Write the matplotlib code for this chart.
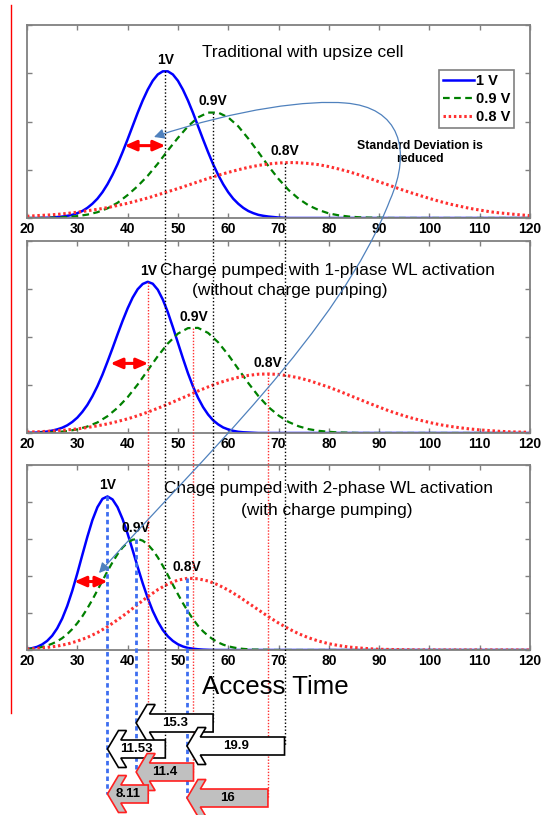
"""
Access time distributions for three word-line schemes at 1 V / 0.9 V / 0.8 V
"""

import matplotlib
matplotlib.use("Agg")
import matplotlib.pyplot as plt
from matplotlib.patches import Polygon, FancyArrowPatch
from matplotlib.path import Path

plt.rcParams["font.family"] = ["Liberation Sans", "DejaVu Sans"]

# ---- data --------------------------------------------------------------
# wide curves are read every 2 units, narrow ones every unit up to 70
access_time = list(range(20, 121, 2))
narrow_time = list(range(20, 71)) + list(range(72, 121, 2))
voltages = ["1 V", "0.9 V", "0.8 V"]
peak_labels = ["1V", "0.9V", "0.8V"]

trad_1v = [0, 0, 0, 0.1, 0.1, 0.2, 0.4, 0.6, 0.9, 1.3, 2.0, 2.9, 4.2, 5.9, 8.0,
           10.7, 14.0, 17.9, 22.3, 27.3, 32.6, 38.1, 43.6, 48.7, 53.2, 56.9,
           59.5, 60.8, 60.8, 59.5, 56.9, 53.2, 48.7, 43.6, 38.1, 32.6, 27.3,
           22.3, 17.9, 14.0, 10.7, 8.0, 5.9, 4.2, 2.9, 2.0, 1.3, 0.9, 0.6, 0.4,
           0.2] + [0] * 25
trad_09v = [0, 0, 0.1, 0.2, 0.4, 0.8, 1.4, 2.4, 4.0, 6.3, 9.5, 13.2, 17.5, 22.5,
            28.0, 33.2, 38.0, 41.7, 43.7, 43.7, 41.7, 38.0, 32.9, 27.3, 21.5,
            16.2, 11.6, 8.0, 5.2, 3.3, 1.9, 1.1, 0.6, 0.3, 0.15, 0.1] + [0] * 15
trad_08v = [0.7, 1.0, 1.2, 1.5, 1.9, 2.4, 3.0, 3.6, 4.3, 5.2, 6.1, 7.2, 8.3, 9.6,
            10.9, 12.2, 13.6, 15.0, 16.4, 17.7, 18.9, 20.0, 21.0, 21.8, 22.4,
            22.8, 23.0, 22.9, 22.6, 22.1, 21.3, 20.3, 19.2, 17.9, 16.5, 15.0,
            13.6, 12.1, 10.7, 9.4, 8.1, 6.9, 5.8, 4.9, 4.0, 3.3, 2.6, 2.1, 1.7,
            1.3, 1.0]

one_1v = [0.1, 0.1, 0.2, 0.4, 0.6, 1.0, 1.5, 2.2, 3.2, 4.6, 6.4, 8.8, 11.7, 15.3,
          19.5, 24.3, 29.7, 35.3, 41.1, 46.7, 51.9, 56.4, 59.9, 62.1, 63.0, 62.2,
          59.7, 55.6, 50.3, 44.1, 37.6, 31.1, 24.9, 19.4, 14.7, 10.8, 7.7, 5.3,
          3.6, 2.3, 1.5, 0.9, 0.5, 0.3, 0.2, 0.1, 0, 0, 0, 0, 0] + [0] * 25
one_09v = [0, 0.1, 0.2, 0.4, 0.8, 1.5, 2.7, 4.4, 7.0, 10.5, 14.9, 20.2, 26.1,
           32.0, 37.3, 41.4, 43.7, 43.8, 41.7, 37.8, 32.6, 26.7, 20.8, 15.4,
           10.8, 7.3, 4.6, 2.8, 1.6, 0.9, 0.5, 0.2, 0.1] + [0] * 18
one_08v = [0.4, 0.5, 0.7, 1.0, 1.3, 1.7, 2.3, 3.0, 3.8, 4.8, 5.9, 7.2, 8.7, 10.3,
           12.0, 13.8, 15.6, 17.5, 19.2, 20.8, 22.1, 23.2, 24.0, 24.5, 24.6,
           24.4, 23.8, 23.0, 21.9, 20.5, 19.1, 17.5, 15.8, 14.1, 12.4, 10.8,
           9.2, 7.8, 6.5, 5.4, 4.4, 3.5, 2.8, 2.2, 1.7, 1.3, 1.0, 0.7, 0.5, 0.4,
           0.3]

two_1v = [0.5, 1.0, 1.7, 3.0, 4.9, 7.7, 11.7, 17.0, 23.8, 32.0, 41.4, 51.4, 61.2,
          70.2, 77.2, 81.7, 83.0, 81.4, 77.2, 70.8, 62.9, 54.0, 44.9, 36.1, 28.1,
          21.1, 15.4, 10.8, 7.4, 4.9, 3.1, 1.9, 1.1, 0.7, 0.4, 0.2, 0.1] + [0] * 39
two_09v = [0.5, 0.7, 1.1, 1.6, 2.4, 3.4, 4.7, 6.4, 8.6, 11.3, 14.5, 18.2, 22.5,
           27.2, 32.3, 37.4, 42.6, 47.4, 51.8, 55.4, 58.0, 59.6, 60.0, 59.1, 57.1,
           54.0, 50.1, 45.5, 40.5, 35.3, 30.2, 25.3, 20.8, 16.7, 13.1, 10.1, 7.7,
           5.7, 4.1, 2.9, 2.0, 1.4, 0.9, 0.6, 0.4, 0.2, 0.2, 0.1, 0.1, 0, 0] + [0] * 25
two_08v = [0.5, 0.8, 1.4, 2.1, 3.2, 4.8, 6.8, 9.4, 12.6, 16.3, 20.3, 24.6, 28.8,
           32.6, 35.7, 37.8, 38.8, 38.5, 37.3, 35.2, 32.4, 29.1, 25.4, 21.7,
           18.0, 14.6, 11.5, 8.8, 6.6, 4.8, 3.4, 2.4, 1.6, 1.1, 0.7, 0.4, 0.3,
           0.2, 0.1] + [0] * 12

trad_peak = [47.5, 57.0, 71.2]
one_phase_peak = [44.1, 53.1, 67.9]
two_phase_peak = [36.0, 41.7, 51.8]

# left end / height of the red "spread" arrow on the 1 V curve
sd_left = [39.4, 36.6, 29.4]
sd_height = [30, 29, 37]

trad_gain = ["11.53", "15.3", "19.9"]
pump_gain = ["8.11", "11.4", "16"]

# ---- layout ------------------------------------------------------------
W, H = 544, 815
fig = plt.figure(figsize=(W / 100, H / 100), dpi=100)

colors = ["#0000ff", "#008000", "#ff3030"]
styles = ["-", (0, (3, 2)), (0, (0.8, 0.9))]
widths = [1.8, 1.6, 2.2]
grids = [narrow_time, access_time, access_time]

panels = [
    ((25, 218, 80), [trad_1v, trad_09v, trad_08v], trad_peak, grids),
    ((241, 433, 80), [one_1v, one_09v, one_08v], one_phase_peak, grids),
    ((465, 650, 100), [two_1v, two_09v, two_08v], two_phase_peak,
     [narrow_time, narrow_time, access_time]),
]

axes = []
for (top, bot, ymax), series, peaks, xs in panels:
    ax = fig.add_axes([27 / W, 1 - bot / H, 503 / W, (bot - top) / H])
    for x, s, c, ls, lw, lab in zip(xs, series, colors, styles, widths, voltages):
        ax.plot(x, s, color=c, ls=ls, lw=lw, label=lab)
    for px, s, lab in zip(peaks, series, peak_labels):
        ax.annotate(lab, (px, max(s)), xytext=(0, 3), textcoords="offset points",
                    ha="center", va="bottom", fontsize=10, fontweight="bold")
    ax.set_xlim(20, 120)
    ax.set_ylim(0, ymax)
    ax.set_xticks(range(20, 121, 10))
    ax.set_yticks(range(0, ymax + 1, 20))
    ax.set_yticklabels([])
    ax.tick_params(direction="in", top=True, right=True, length=3.5,
                   color="#808080", width=1, labelsize=10, pad=3)
    for t in ax.get_xticklabels():
        t.set_fontweight("bold")
    for sp in ax.spines.values():
        sp.set_color("#808080")
        sp.set_linewidth(1.3)
    axes.append(ax)

for ax, left, h, peak in zip(axes, sd_left, sd_height,
                             [trad_peak[0], one_phase_peak[0], two_phase_peak[0]]):
    ax.annotate("", xy=(peak, h), xytext=(left, h),
                arrowprops=dict(arrowstyle="<|-|>,head_length=0.5,head_width=0.22",
                                color="#ff0000", lw=2.2, shrinkA=0, shrinkB=0,
                                mutation_scale=14))

leg = axes[0].legend(loc="upper right", bbox_to_anchor=(0.968, 0.767),
                     fancybox=False, edgecolor="#808080", framealpha=1,
                     prop={"weight": "bold", "size": 10.5}, handlelength=2.1,
                     handletextpad=0.15, labelspacing=0.3, borderpad=0.25,
                     borderaxespad=0)
leg.get_frame().set_linewidth(1.2)

# ---- overlay in pixel coordinates ---------------------------------------
ov = fig.add_axes([0, 0, 1, 1])
ov.set_xlim(0, W)
ov.set_ylim(H, 0)
ov.axis("off")
ov.set_zorder(5)
ov.patch.set_alpha(0)


def to_px(ax, x, y):
    dx, dy = ax.transData.transform((x, y))
    return dx, H - dy


trad_rows = [749, 723, 746]
pump_rows = [794, 772, 798]

# peak marker lines running down to the comparison arrows
for i in range(3):
    x0, y0 = to_px(axes[0], trad_peak[i], max(panels[0][1][i]))
    ov.plot([x0, x0], [y0, trad_rows[i]], color="black", lw=1, ls=(0, (1, 1.5)))
    x1, y1 = to_px(axes[1], one_phase_peak[i], max(panels[1][1][i]))
    ov.plot([x1, x1], [y1, pump_rows[i]], color="#ff3030", lw=1, ls=(0, (1, 1.2)))
    x2, y2 = to_px(axes[2], two_phase_peak[i], max(panels[2][1][i]))
    ov.plot([x2, x2], [y2, pump_rows[i]], color="#3d6ef0", lw=2, ls=(0, (1.6, 1.2)))


def block_arrow(x_tip, x_end, yc, face, edge, label, z):
    half, body, head, flat = 18.5, 9.0, 11.0, 8.0
    back = x_tip + head + flat - head * (half - body) / half
    verts = [(x_tip, yc), (x_tip + head, yc - half), (x_tip + head + flat, yc - half),
             (back, yc - body), (x_end, yc - body), (x_end, yc + body),
             (back, yc + body), (x_tip + head + flat, yc + half),
             (x_tip + head, yc + half)]
    ov.add_patch(Polygon(verts, closed=True, facecolor=face, edgecolor=edge,
                         lw=1.2, zorder=z))
    ov.text((x_tip + x_end) / 2, yc, label, ha="center", va="center",
            fontsize=9.5, fontweight="bold", zorder=z + 0.5)


order = [("t", 1), ("t", 0), ("t", 2), ("p", 1), ("p", 0), ("p", 2)]
for z, (kind, i) in enumerate(order, start=10):
    tip = to_px(axes[2], two_phase_peak[i], 0)[0]
    if kind == "t":
        end = to_px(axes[0], trad_peak[i], 0)[0]
        block_arrow(tip, end, trad_rows[i], "white", "black", trad_gain[i], z)
    else:
        end = to_px(axes[1], one_phase_peak[i], 0)[0]
        block_arrow(tip, end, pump_rows[i], "#c0c0c0", "#ff2020", pump_gain[i], z)

# curved "standard deviation" arrow
verts = [(154, 137), (240, 108), (310, 100), (345, 103), (400, 107), (412, 150),
         (390, 200), (340, 330), (200, 460), (99, 573)]
codes = [Path.MOVETO] + [Path.CURVE4] * 9
ov.add_patch(FancyArrowPatch(path=Path(verts, codes),
                             arrowstyle="<|-|>,head_length=0.5,head_width=0.25",
                             mutation_scale=12, color="#4f81bd", lw=0.9,
                             transform=ov.transData, zorder=4))

ov.text(420, 152.5, "Standard Deviation is\nreduced", ha="center", va="center",
        fontsize=8.8, fontweight="bold", linespacing=1.15)

# panel captions
ov.text(303, 53, "Traditional with upsize cell", ha="center", va="center", fontsize=12.4)
ov.text(327, 270, "Charge pumped with 1-phase WL activation", ha="center", va="center",
        fontsize=12.4)
ov.text(290, 291, "(without charge pumping)", ha="center", va="center", fontsize=12.4)
ov.text(328, 488, "Chage pumped with 2-phase WL activation", ha="center", va="center",
        fontsize=12.4)
ov.text(327, 510, "(with charge pumping)", ha="center", va="center", fontsize=12.4)

ov.text(275, 687, "Access Time", ha="center", va="center", fontsize=18.6)
ov.plot([11, 11], [5, 713], color="red", lw=1)

fig.savefig("out.png", dpi=100)
plt.close(fig)
